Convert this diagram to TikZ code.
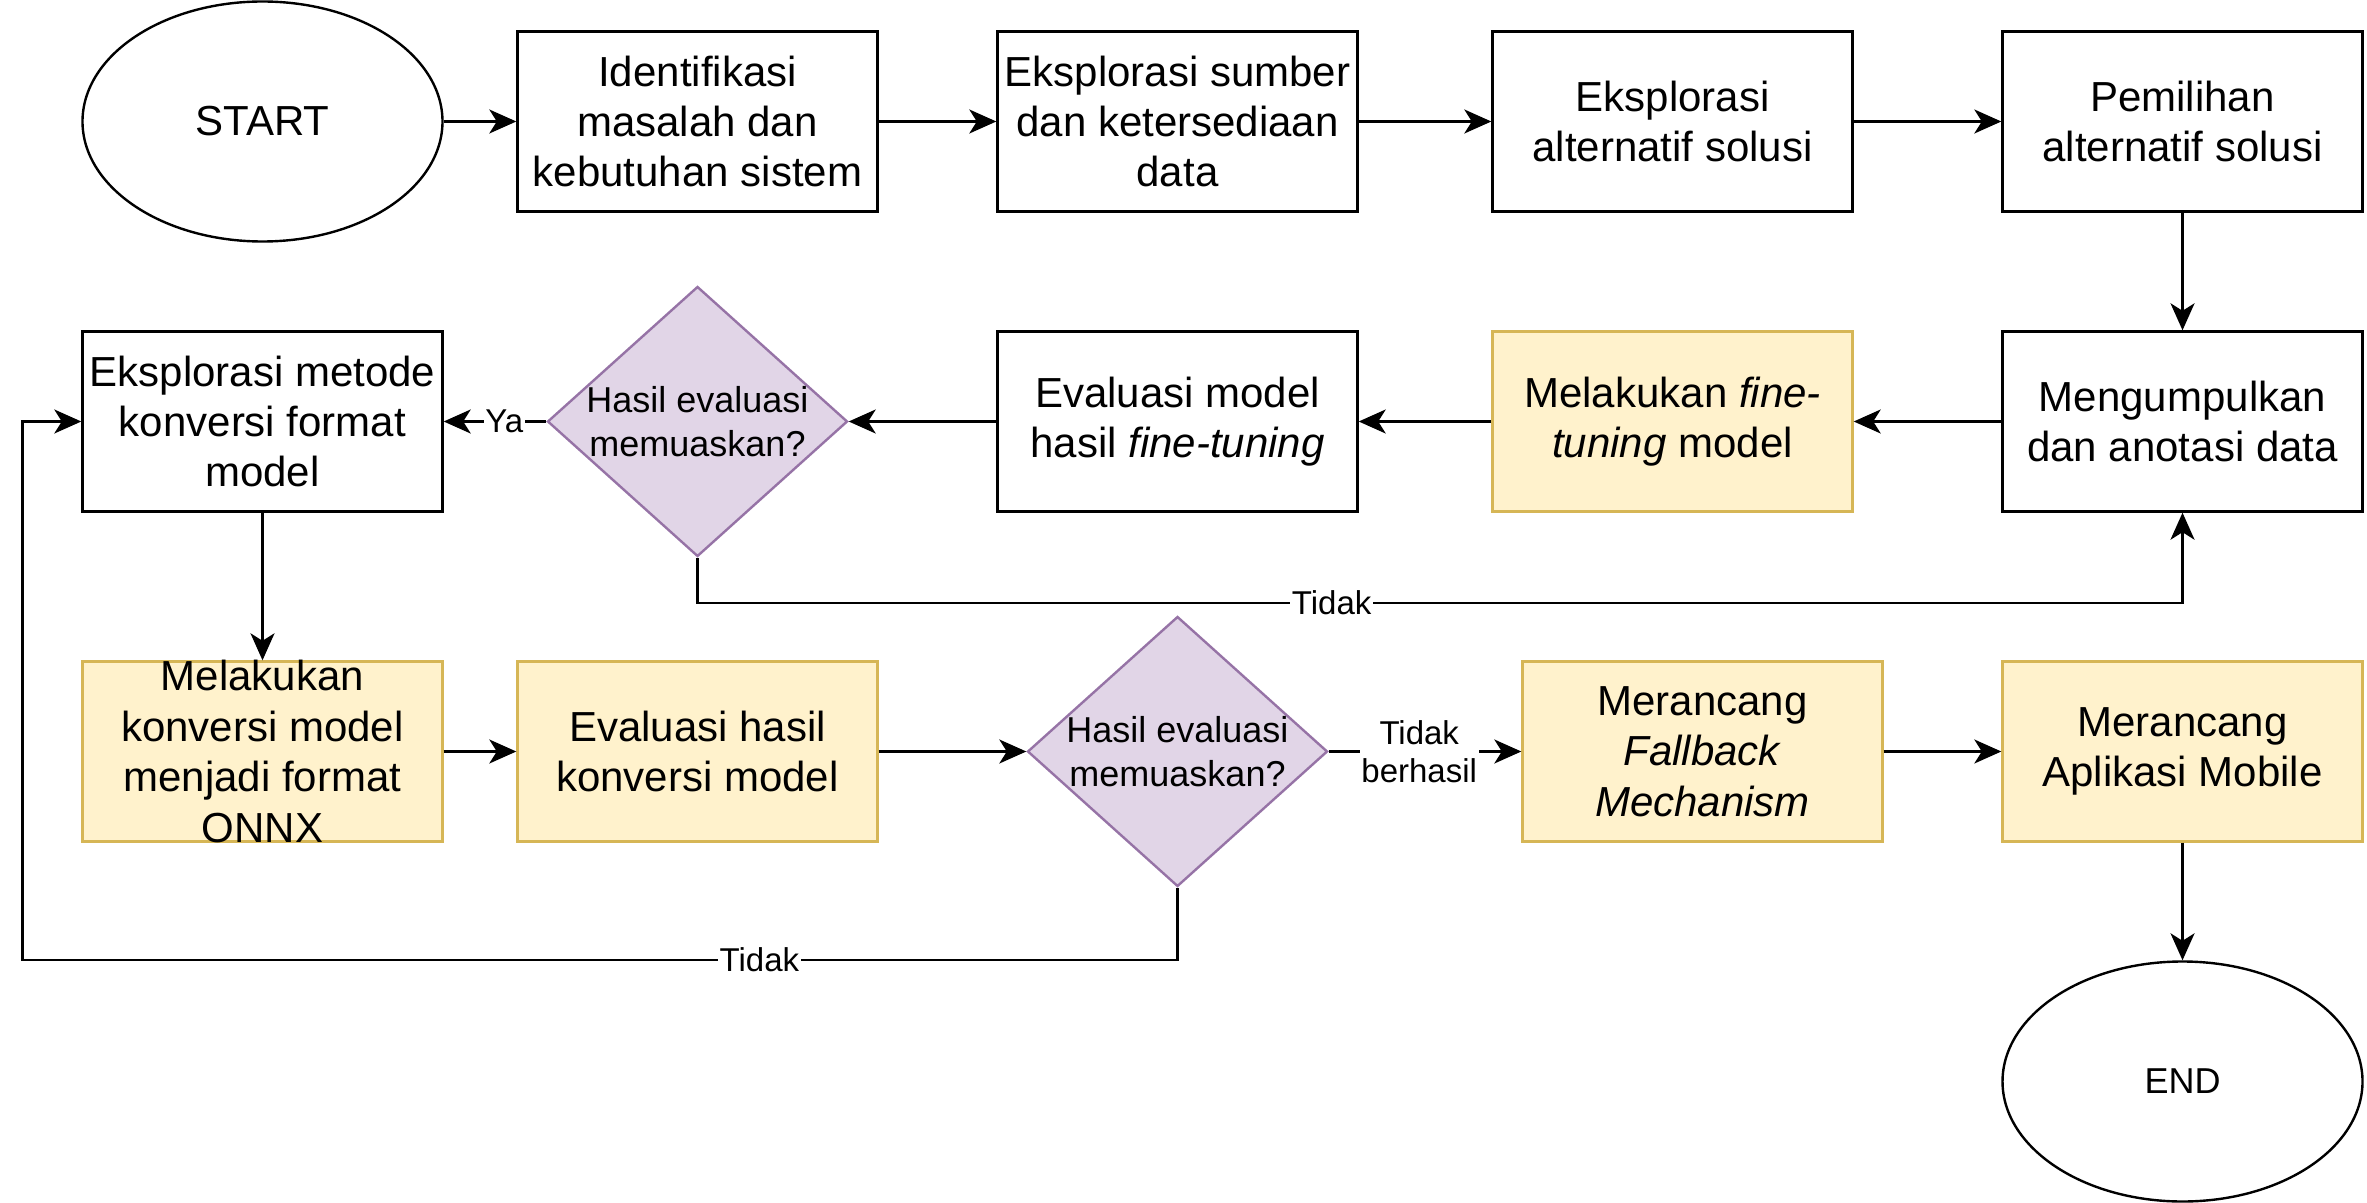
\documentclass[tikz,border=0pt]{standalone}
\usepackage{fontspec}
\setmainfont{Liberation Sans}
\usetikzlibrary{shapes.geometric,arrows.meta,positioning}

\definecolor{kuningisi}{HTML}{FFF2CC}
\definecolor{kuninggaris}{HTML}{D6B656}
\definecolor{unguisi}{HTML}{E1D5E7}
\definecolor{ungugaris}{HTML}{9673A6}

\tikzset{
	proses/.style={draw, line width=0.8pt, minimum width=120pt, minimum height=60pt, inner sep=2pt, align=center, font=\fontsize{14}{16.8}\selectfont},
	prosesk/.style={proses, draw=kuninggaris, fill=kuningisi},
	terminal/.style={ellipse, draw, line width=0.8pt, minimum width=120pt, minimum height=80pt, inner sep=0pt},
	keputusan/.style={diamond, draw=ungugaris, fill=unguisi, line width=0.8pt, minimum width=100pt, minimum height=90pt, inner sep=-5pt, align=center, font=\fontsize{12}{14.6}\selectfont},
	panah/.style={line width=0.8pt, -{Stealth[length=9pt,width=8pt,inset=2.5pt]}},
	ket/.style={fill=white, inner sep=0.5pt, align=center, font=\fontsize{11}{12.5}\selectfont}
}

\begin{document}
\begin{tikzpicture}[x=1pt,y=-1pt]
			\useasboundingbox (0,0) rectangle (789,401);
			
			% Baris 1
			\node[terminal, font=\fontsize{14}{16.8}\selectfont] (start) at (87.5,40.5) {START};
			\node[proses] (identifikasi) at (232.5,40.5) {Identifikasi\\masalah dan\\kebutuhan sistem};
			\node[proses] (sumberdata) at (392.5,40.5) {Eksplorasi sumber\\dan ketersediaan\\data};
			\node[proses] (eksalternatif) at (557.5,40.5) {Eksplorasi\\alternatif solusi};
			\node[proses] (pilihalternatif) at (727.5,40.5) {Pemilihan\\alternatif solusi};
			
			% Baris 2
			\node[proses] (eksmetode) at (87.5,140.5) {Eksplorasi metode\\konversi format\\model};
			\node[keputusan] (cekmodel) at (232.5,140.5) {Hasil evaluasi\\memuaskan?};
			\node[proses] (evalmodel) at (392.5,140.5) {Evaluasi model\\hasil \textit{fine-tuning}};
			\node[prosesk] (finetuning) at (557.5,140.5) {Melakukan \textit{fine-}\\\textit{tuning} model};
			\node[proses] (kumpuldata) at (727.5,140.5) {Mengumpulkan\\dan anotasi data};
			
			% Baris 3
			\node[prosesk, inner ysep=-4pt] (konversi) at (87.5,250.5) {Melakukan\\konversi model\\menjadi format\\ONNX};
			\node[prosesk] (evalkonversi) at (232.5,250.5) {Evaluasi hasil\\konversi model};
			\node[keputusan] (cekkonversi) at (392.5,250.5) {Hasil evaluasi\\memuaskan?};
			\node[prosesk] (fallback) at (567.5,250.5) {Merancang\\\textit{Fallback}\\\textit{Mechanism}};
			\node[prosesk] (aplikasi) at (727.5,250.5) {Merancang\\Aplikasi Mobile};
			\node[terminal, font=\fontsize{12}{14.4}\selectfont] (selesai) at (727.5,360.5) {END};
			
			% Panah
			\draw[panah] (start) -- (identifikasi);
			\draw[panah] (identifikasi) -- (sumberdata);
			\draw[panah] (sumberdata) -- (eksalternatif);
			\draw[panah] (eksalternatif) -- (pilihalternatif);
			\draw[panah] (pilihalternatif) -- (kumpuldata);
			\draw[panah] (kumpuldata) -- (finetuning);
			\draw[panah] (finetuning) -- (evalmodel);
			\draw[panah] (evalmodel) -- (cekmodel);
			\draw[panah] (cekmodel.west) -- node[ket, pos=0.41] {Ya} (eksmetode.east);
			\draw[panah] (cekmodel.south) -- ++(0,15) -| node[ket, pos=0.2135] {Tidak} (kumpuldata.south);
			\draw[panah] (eksmetode) -- (konversi);
			\draw[panah] (konversi) -- (evalkonversi);
			\draw[panah] (evalkonversi) -- (cekkonversi);
			\draw[panah] (cekkonversi.east) -- node[ket, pos=0.47] {Tidak\\berhasil} (fallback.west);
			\draw[panah] (fallback) -- (aplikasi);
			\draw[panah] (aplikasi) -- (selesai);
			
			% Kembali
			\coordinate (balik) at (7.5,320);
			\draw[panah] (cekkonversi.south) |- node[ket, pos=0.681] {Tidak} (balik) |- (eksmetode.west);
			
\end{tikzpicture}
\end{document}
